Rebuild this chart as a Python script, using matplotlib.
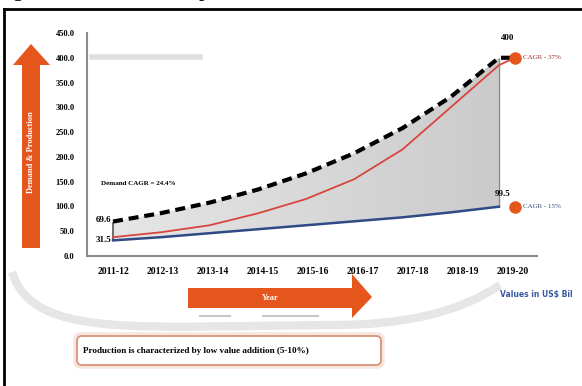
import numpy as np
import matplotlib.pyplot as plt
from matplotlib.patches import Polygon, FancyBboxPatch, PathPatch
from matplotlib.path import Path
from matplotlib.colors import LinearSegmentedColormap

# market size, US$ bn
years = ['2011-12', '2012-13', '2013-14', '2014-15', '2015-16',
         '2016-17', '2017-18', '2018-19', '2019-20']
demand = [69.6, 86.6, 107.7, 134.0, 166.7, 207.4, 258.0, 321.0, 400.0]
trend = [38.0, 48.0, 62.0, 86.0, 115.0, 155.0, 215.0, 300.0, 385.0]
production = [31.5, 38.0, 46.0, 54.0, 62.0, 70.0, 78.0, 88.0, 99.5]

demand_cagr = 'Demand CAGR = 24.4%'
end_labels = ['CAGR - 37%', 'CAGR - 15%']
end_values = [400.0, 99.5]

orange = '#e4561c'
serif = 'Liberation Serif'

W, H = 582, 386
fig = plt.figure(figsize=(W / 100, H / 100), dpi=100)

# full-figure layer in pixel units for the decorations
deco = fig.add_axes([0, 0, 1, 1], zorder=0)
deco.set_xlim(0, W)
deco.set_ylim(H, 0)
deco.axis('off')

ax = fig.add_axes([87 / W, 130 / H, 450 / W, 223 / H], zorder=1)
ax.patch.set_alpha(0)

x = np.arange(len(years))
dot_x = x[-1] + 0.33

# shaded gap between demand and production, with a soft gradient
gap = ax.fill_between(x, production, demand, color='none', lw=0)
grad = LinearSegmentedColormap.from_list('g', ['#e6e6e6', '#cbcbcb'])
img = ax.imshow(np.linspace(0, 1, 256).reshape(1, -1), cmap=grad, aspect='auto',
                extent=[x[0], x[-1], 0, 450], zorder=1)
img.set_clip_path(gap.get_paths()[0], transform=ax.transData)
ax.vlines(x[0], production[0], demand[0], color='#555555', lw=1.2, zorder=2)
ax.vlines(x[-1], production[-1], demand[-1], color='#8a8a8a', lw=1.0, zorder=2)

ax.plot(list(x) + [dot_x], trend + [end_values[0]], color='#d8453f', lw=1.3, zorder=3)
ax.plot(x, production, color='#2f4a84', lw=1.8, zorder=3)
ax.plot(list(x) + [dot_x], demand + [end_values[0]], color='black', lw=3,
        dashes=(2.4, 1.4), zorder=4)
ax.plot([dot_x, dot_x], end_values, 'o', color=orange, ms=8, zorder=5)

lab = dict(fontfamily=serif, fontweight='bold', fontsize=6.5, ha='center')
ax.annotate('400', (x[-1], demand[-1]), xytext=(6, 13), textcoords='offset points', **lab)
ax.annotate('99.5', (x[-1], production[-1]), xytext=(3, 8), textcoords='offset points', **lab)
ax.annotate('69.6', (x[0], demand[0]), xytext=(-7, 1), textcoords='offset points',
            va='center', **lab)
ax.annotate('31.5', (x[0], production[0]), xytext=(-7, 0), textcoords='offset points',
            va='center', **lab)
ax.text(0.52, 147, demand_cagr, fontfamily=serif, fontweight='bold', fontsize=5,
        ha='center', va='center')
for v, t, c in zip(end_values, end_labels, ['#9c2e2a', '#3a4f7a']):
    ax.annotate(t, (dot_x, v), xytext=(6, 0), textcoords='offset points',
                fontfamily=serif, fontsize=5, color=c, va='center')

ax.set_xlim(-0.54, 8.79)
ax.set_ylim(0, 450)
ax.set_yticks(np.arange(0, 451, 50))
ax.set_yticklabels([f'{v:.1f}' for v in np.arange(0, 451, 50)],
                   fontfamily=serif, fontweight='bold', fontsize=6)
ax.set_xticks(x * 1.0363)
ax.set_xticklabels(years, fontfamily=serif, fontweight='bold', fontsize=7)
ax.tick_params(length=0)
ax.tick_params(axis='y', pad=9)
ax.tick_params(axis='x', pad=8)
for s in ['top', 'right']:
    ax.spines[s].set_visible(False)
for s in ['left', 'bottom']:
    ax.spines[s].set_color('#8c8c8c')
    ax.spines[s].set_linewidth(1.5)

# faded backdrop strokes
arc = Path([(12, 272), (30, 330), (110, 328), (250, 326), (330, 325),
            (440, 326), (500, 285)],
           [Path.MOVETO, Path.CURVE4, Path.CURVE4, Path.CURVE4,
            Path.LINETO, Path.CURVE3, Path.CURVE3])
deco.add_patch(PathPatch(arc, fill=False, ec='#e6e6e6', lw=6))
deco.plot([92, 200], [57, 57], color='#e0e0e0', lw=4)
deco.plot([200, 230], [316, 316], color='#c8c8c8', lw=1.5)
deco.plot([263, 318], [316, 316], color='#c8c8c8', lw=1.5)

# vertical axis arrow
deco.add_patch(Polygon([(22, 248), (40, 248), (40, 65), (50, 65), (31, 44),
                        (13, 65), (22, 65)], closed=True, fc=orange, ec='none'))
deco.text(31, 152, 'Demand & Production', rotation=90, color='white',
          fontfamily=serif, fontweight='bold', fontsize=6, ha='center', va='center')

# horizontal axis arrow
deco.add_patch(Polygon([(188, 288), (352, 288), (352, 274), (372, 297),
                        (352, 318), (352, 308), (188, 308)], closed=True,
                       fc=orange, ec='none'))
deco.text(270, 298, 'Year', color='white', fontfamily=serif, fontweight='bold',
          fontsize=6, ha='center', va='center')

deco.text(536, 294, 'Values in US$ Bil', color='#3b5aa0', fontfamily='DejaVu Sans',
          fontweight='bold', fontsize=5.5, ha='center', va='center')

# note box
deco.add_patch(FancyBboxPatch((75, 334), 308, 33, boxstyle='round,pad=0,rounding_size=6',
                              fc='none', ec='#f7e6dd', lw=2.5))
deco.add_patch(FancyBboxPatch((77, 336), 304, 29, boxstyle='round,pad=0,rounding_size=5',
                              fc='white', ec='#d79377', lw=1.3))
deco.text(83, 351, 'Production is characterized by low value addition (5-10%)',
          fontfamily=serif, fontweight='bold', fontsize=6.6, va='center')

# page frame and caption line above it
deco.plot([4, W], [9, 9], color='black', lw=2)
deco.plot([4, 4], [9, H], color='black', lw=2)
deco.text(-6, -4, 'Figure 1: Demand and production', fontfamily=serif, fontsize=16,
          va='baseline')

fig.savefig('out.png', dpi=100)
